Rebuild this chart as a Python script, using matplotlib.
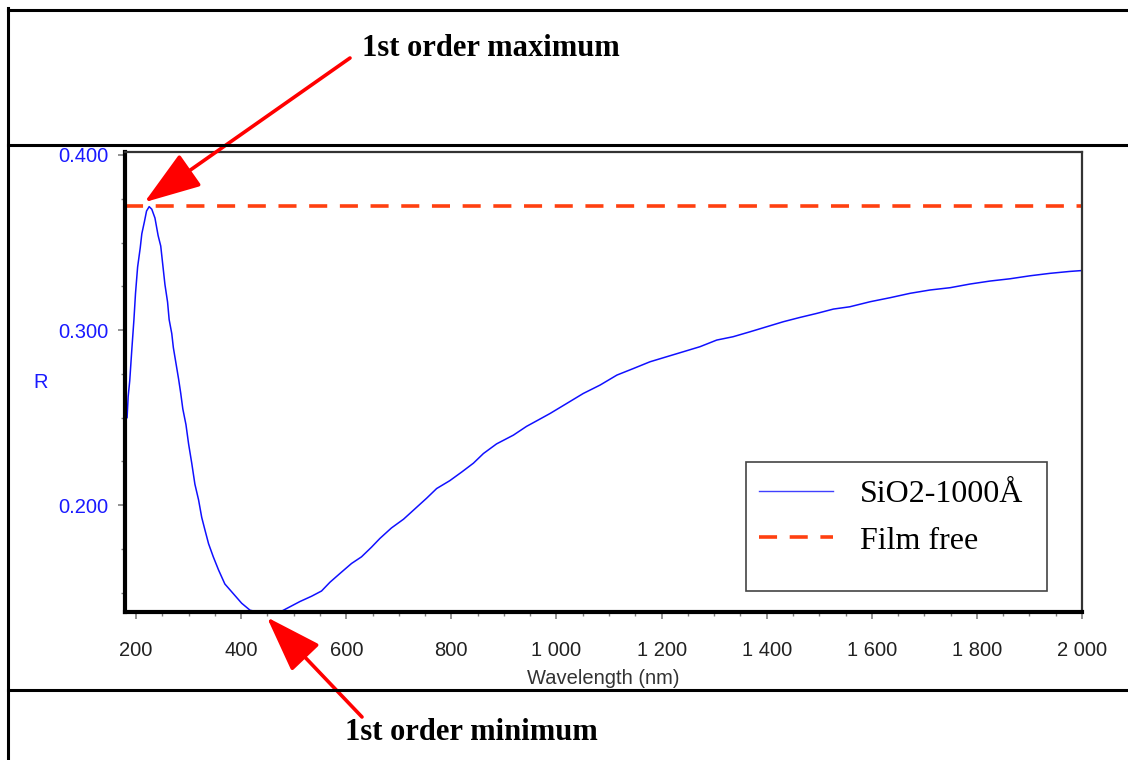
import matplotlib
matplotlib.use("Agg")
import matplotlib.pyplot as plt
from matplotlib.lines import Line2D
from matplotlib.patches import Rectangle
from matplotlib.ticker import MultipleLocator, FuncFormatter

# reflectance of a 1000 A oxide film on silicon
wavelength = [183, 185, 188, 192, 196, 199, 203, 208, 211, 216, 220, 225,
              230, 236, 242, 247, 251, 255, 260, 263, 268, 271, 276, 281,
              285, 289, 295, 300, 306, 312, 319, 325, 331, 338, 347, 357,
              369, 385, 401, 417, 433, 450, 474, 493, 512, 534, 553, 569,
              588, 610, 629, 648, 664, 686, 709, 731, 753, 772, 797, 820,
              842, 861, 886, 918, 943, 965, 988, 1019, 1051, 1083, 1115,
              1146, 1178, 1210, 1241, 1273, 1305, 1336, 1368, 1400, 1432,
              1463, 1495, 1527, 1558, 1597, 1635, 1673, 1711, 1749, 1787,
              1825, 1863, 1901, 1939, 1977, 2000]
reflectance = [0.250, 0.262, 0.271, 0.289, 0.306, 0.321, 0.336, 0.347,
               0.355, 0.362, 0.368, 0.3705, 0.369, 0.364, 0.354, 0.348,
               0.337, 0.326, 0.316, 0.306, 0.298, 0.290, 0.281, 0.272,
               0.264, 0.255, 0.246, 0.235, 0.224, 0.212, 0.203, 0.193,
               0.186, 0.178, 0.1705, 0.163, 0.155, 0.1495, 0.144, 0.140,
               0.139, 0.137, 0.139, 0.142, 0.145, 0.148, 0.151, 0.156,
               0.161, 0.1667, 0.1705, 0.176, 0.181, 0.187, 0.192, 0.198,
               0.204, 0.2095, 0.214, 0.219, 0.224, 0.2295, 0.235, 0.240,
               0.245, 0.2486, 0.2524, 0.258, 0.2638, 0.2686, 0.2743,
               0.278, 0.2819, 0.2848, 0.2876, 0.2905, 0.2943, 0.2962,
               0.299, 0.3019, 0.3048, 0.3072, 0.3095, 0.312, 0.3133,
               0.3162, 0.3185, 0.321, 0.3229, 0.3242, 0.3263, 0.328,
               0.3293, 0.331, 0.3324, 0.3335, 0.334]
film_free = 0.371

series_labels = ["SiO2-1000Å", "Film free"]
max_label = "1st order maximum"
min_label = "1st order minimum"

W, H = 1128, 760
fig = plt.figure(figsize=(W / 100, H / 100), dpi=100)
fig.patch.set_facecolor("white")


def fx(px):
    return px / W


def fy(py):
    return 1 - py / H


# page frame lines around the chart
for (x0, y0, x1, y1) in [(8, 10, W, 10), (8, 145, W, 145), (8, 690, W, 690),
                         (8, 8, 8, H)]:
    fig.add_artist(Line2D([fx(x0), fx(x1)], [fy(y0), fy(y1)], color="black",
                          lw=2.2, transform=fig.transFigure))

ax = fig.add_axes([fx(125), fy(612), fx(1082) - fx(125), fy(152) - fy(612)])
ax.plot(wavelength, reflectance, color="#1010ff", lw=1.1,
        label=series_labels[0])
ax.axhline(film_free, color="#ff4010", lw=2.6, ls=(0, (5, 3.5)),
           label=series_labels[1])

ax.set_xlim(179, 2000)
ax.set_ylim(0.139, 0.4017)
ax.xaxis.set_major_locator(MultipleLocator(200))
ax.xaxis.set_minor_locator(MultipleLocator(50))
ax.yaxis.set_major_locator(MultipleLocator(0.1))
ax.yaxis.set_minor_locator(MultipleLocator(0.025))
ax.xaxis.set_major_formatter(FuncFormatter(lambda v, p: f"{int(round(v)):,}".replace(",", " ")))
ax.yaxis.set_major_formatter(FuncFormatter(lambda v, p: f"{v:.3f}"))

tick_font = "Liberation Sans"
ax.tick_params(which="major", length=5, width=1.2, color="#808080")
ax.tick_params(which="minor", length=3, width=1.0, color="#808080")
ax.tick_params(axis="x", labelsize=14.5, labelcolor="#222222", pad=16)
ax.tick_params(axis="y", labelsize=14.5, labelcolor="#1a1aff", pad=7)
for lab in ax.get_xticklabels() + ax.get_yticklabels():
    lab.set_fontfamily(tick_font)

ax.set_xlabel("Wavelength (nm)", fontsize=14.5, family=tick_font,
              color="#333333", labelpad=6)
ax.set_ylabel("R", fontsize=14.5, family=tick_font, color="#1a1aff",
              rotation=0, va="center", ha="center")
ax.yaxis.set_label_coords(-0.088, 0.498)

ax.spines["left"].set_linewidth(3)
ax.spines["bottom"].set_linewidth(3)
ax.spines["top"].set_linewidth(1.6)
ax.spines["right"].set_linewidth(1.6)
ax.spines["top"].set_color("#333333")
ax.spines["right"].set_color("#333333")

# legend sits in a taller box than its entries need
box = Rectangle((fx(746), fy(591)), fx(1047) - fx(746), fy(462) - fy(591),
                transform=fig.transFigure, facecolor="white",
                edgecolor="#444444", lw=1.2, zorder=4, clip_on=False)
ax.add_patch(box)
leg = ax.legend(loc="upper left", bbox_to_anchor=(fx(737), fy(457)),
                bbox_transform=fig.transFigure, frameon=False,
                prop={"family": "Liberation Serif", "size": 23},
                handlelength=2.3, handletextpad=0.85, labelspacing=0.55,
                borderpad=0.2)
leg.set_zorder(6)
leg.get_lines()[0].set_linewidth(1.0)
leg.get_lines()[0].set_color("#4040ff")

# annotations with red arrows
note_font = {"family": "Liberation Serif", "weight": "bold", "size": 22}
fig.text(fx(362), fy(48), max_label, va="center", ha="left", **note_font)
fig.text(fx(345), fy(732), min_label, va="center", ha="left", **note_font)

arrow = dict(arrowstyle="-|>,head_length=1.6,head_width=0.55", color="#ff0000",
             lw=2.6, shrinkA=0, shrinkB=0, mutation_scale=22)
ax.annotate("", xy=(216, 0.373), xytext=(fx(350), fy(58)),
            textcoords="figure fraction", arrowprops=arrow,
            annotation_clip=False)
ax.annotate("", xy=(449, 0.136), xytext=(fx(362), fy(717)),
            textcoords="figure fraction", arrowprops=arrow,
            annotation_clip=False)

fig.savefig("out.png", dpi=100, facecolor="white")
